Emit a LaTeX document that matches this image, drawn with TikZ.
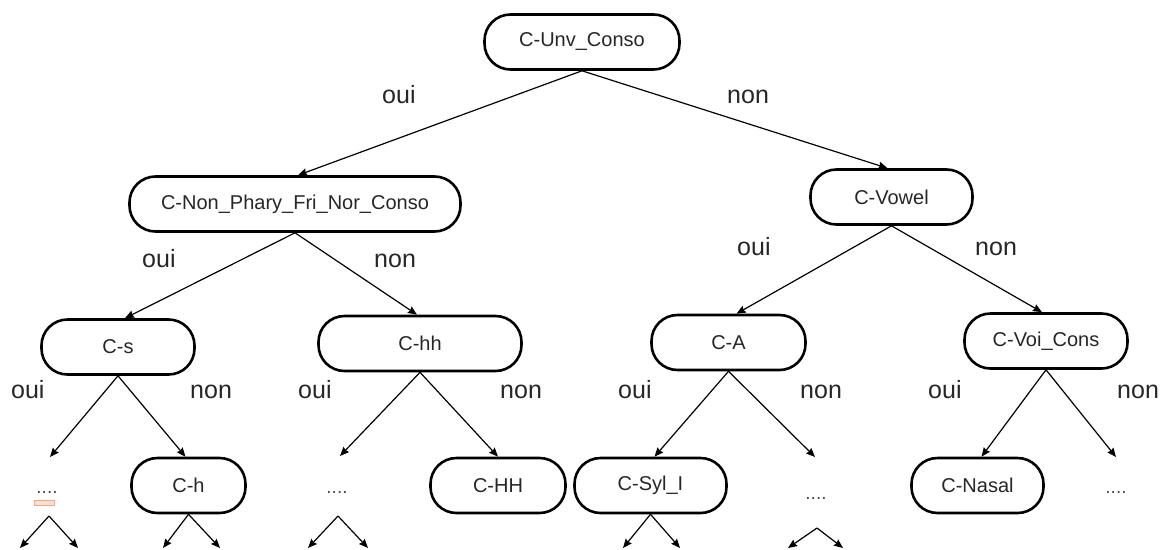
\documentclass[tikz,border=0pt]{standalone}
\usepackage{fontspec}
\setmainfont{Liberation Sans}
\usetikzlibrary{arrows.meta,calc}
\definecolor{txt}{HTML}{262626}
\definecolor{salmonline}{HTML}{F4A582}
\definecolor{salmonfill}{HTML}{FDE0D0}
\tikzset{
  box/.style={draw=black, line width=2.6pt, rounded corners=26pt, minimum height=55pt, inner sep=0pt, text=txt, font=\fontsize{20}{22}\selectfont},
  lbl/.style={anchor=base west, inner sep=0pt, text=txt, font=\fontsize{25}{30}\selectfont},
  dots/.style={anchor=base, inner sep=0pt, text=black!70, font=\fontsize{19}{22}\selectfont},
  arr/.style={line width=1.2pt, -{Stealth[length=9pt,width=7.5pt,inset=1pt]}},
}
\begin{document}
\begin{tikzpicture}[x=1pt,y=-1pt]
\useasboundingbox (0,0) rectangle (1166,549);
% nodes
\node[box, minimum width=195pt] (top) at (582,42) {C-Unv\_Conso};
\node[box, minimum width=331pt] (np) at (295,204) {C-Non\_Phary\_Fri\_Nor\_Conso};
\node[box, minimum width=162pt] (vow) at (891.5,197) {C-Vowel};
\node[box, minimum width=153pt] (cs) at (118,347) {C-s};
\node[box, minimum width=203pt] (chh) at (420,343.5) {C-hh};
\node[box, minimum width=154pt] (ca) at (728.5,342.5) {C-A};
\node[box, minimum width=163pt] (cvoi) at (1046,341) {C-Voi\_Cons};
\node[box, minimum width=114pt] (ch) at (188.5,485.5) {C-h};
\node[box, minimum width=135pt] (cHH) at (498,485.5) {C-HH};
\node[box, minimum width=152pt] (csyl) at (650.5,485.5) {C-Syl\_I};
\node[box, minimum width=132pt] (cnas) at (977.5,485.5) {C-Nasal};
% dots
\node[dots] (d1) at (47,493) {....};
\node[dots] (d2) at (337,493) {....};
\node[dots] (d3) at (816,499) {....};
\node[dots] (d4) at (1116,493) {....};
\draw[draw=salmonline, fill=salmonfill, line width=1pt] (34,500) rectangle (54,505);
% free ends
\coordinate (a1) at (50,457);
\coordinate (a2) at (340,456);
\coordinate (a3) at (815,457);
\coordinate (a4) at (1116,457);
\coordinate (v1) at (49,516);
\coordinate (v2) at (338,516);
\coordinate (v3) at (817,528);
\coordinate (t1) at (20,548);
\coordinate (t2) at (78,548);
\coordinate (t3) at (163,548);
\coordinate (t4) at (220,548);
\coordinate (t5) at (308,548);
\coordinate (t6) at (368,548);
\coordinate (t7) at (623,548);
\coordinate (t8) at (680,548);
\coordinate (t9) at (788,548);
\coordinate (t10) at (843,548);
% connectors
\draw[arr] (top.south) -- ($(np.north)+(3,0)$);
\draw[arr] (top.south) -- ($(vow.north)+(-4,0)$);
\draw[arr] (np.south) -- ($(cs.north)+(7,0)$);
\draw[arr] (np.south) -- ($(chh.north)+(-3,0)$);
\draw[arr] (vow.south) -- ($(ca.north)+(8,0)$);
\draw[arr] (vow.south) -- ($(cvoi.north)+(-4,0)$);
\draw[arr] (cs.south) -- (a1);
\draw[arr] (cs.south) -- ($(ch.north)+(-3,0)$);
\draw[arr] (chh.south) -- (a2);
\draw[arr] (chh.south) -- (cHH.north);
\draw[arr] (ca.south) -- ($(csyl.north)+(4,0)$);
\draw[arr] (ca.south) -- (a3);
\draw[arr] (cvoi.south) -- ($(cnas.north)+(4,0)$);
\draw[arr] (cvoi.south) -- (a4);
\draw[arr] (v1) -- (t1);
\draw[arr] (v1) -- (t2);
\draw[arr] (ch.south) -- (t3);
\draw[arr] (ch.south) -- (t4);
\draw[arr] (v2) -- (t5);
\draw[arr] (v2) -- (t6);
\draw[arr] (csyl.south) -- (t7);
\draw[arr] (csyl.south) -- (t8);
\draw[arr] (v3) -- (t9);
\draw[arr] (v3) -- (t10);
% labels
\node[lbl] (l1) at (382,103) {oui};
\node[lbl] (l2) at (727,103) {non};
\node[lbl] (l3) at (142,267) {oui};
\node[lbl] (l4) at (374,267) {non};
\node[lbl] (l5) at (737,255) {oui};
\node[lbl] (l6) at (975,255) {non};
\node[lbl] (l7) at (11,398) {oui};
\node[lbl] (l8) at (190,398) {non};
\node[lbl] (l9) at (298,398) {oui};
\node[lbl] (l10) at (500,398) {non};
\node[lbl] (l11) at (618,398) {oui};
\node[lbl] (l12) at (800,398) {non};
\node[lbl] (l13) at (928,398) {oui};
\node[lbl] (l14) at (1117,398) {non};
\end{tikzpicture}
\end{document}
